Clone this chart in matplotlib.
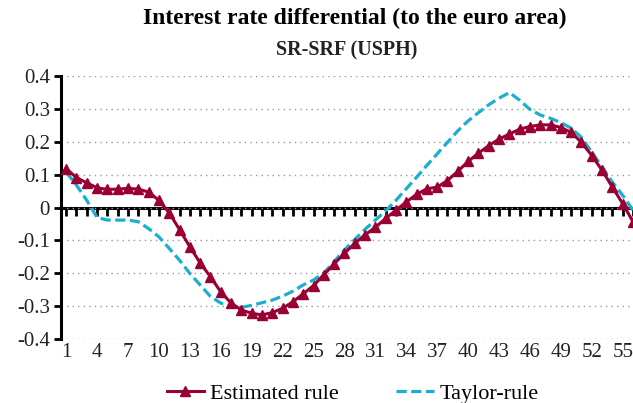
import numpy as np
import matplotlib
matplotlib.use("Agg")
import matplotlib.pyplot as plt

periods = list(range(1, 57))

estimated_rule = [
    0.118, 0.091, 0.075, 0.060, 0.055, 0.056, 0.058, 0.056, 0.047, 0.022,
    -0.016, -0.067, -0.119, -0.168, -0.210, -0.256, -0.290, -0.311, -0.321, -0.326,
    -0.319, -0.306, -0.286, -0.262, -0.237, -0.204, -0.171, -0.139, -0.109, -0.083,
    -0.060, -0.033, -0.008, 0.017, 0.040, 0.057, 0.062, 0.082, 0.110, 0.140,
    0.165, 0.188, 0.208, 0.223, 0.238, 0.246, 0.251, 0.251, 0.243, 0.228,
    0.198, 0.158, 0.113, 0.062, 0.012, -0.043,
]

taylor_rule = [
    0.108, 0.068, 0.022, -0.030, -0.038, -0.038, -0.038, -0.043, -0.064, -0.089,
    -0.124, -0.160, -0.200, -0.235, -0.270, -0.290, -0.300, -0.303, -0.297, -0.289,
    -0.281, -0.269, -0.254, -0.235, -0.220, -0.199, -0.164, -0.129, -0.097, -0.066,
    -0.038, -0.010, 0.022, 0.057, 0.092, 0.128, 0.163, 0.198, 0.233, 0.263,
    0.288, 0.312, 0.332, 0.349, 0.326, 0.298, 0.281, 0.271, 0.258, 0.241,
    0.213, 0.168, 0.123, 0.077, 0.037, -0.008,
]

y_ticks = [-0.4, -0.3, -0.2, -0.1, 0, 0.1, 0.2, 0.3, 0.4]
y_labels = ["-0.4", "-0.3", "-0.2", "-0.1", "0", "0.1", "0.2", "0.3", "0.4"]

RED = "#990033"
CYAN = "#1AAFCF"
FONT = "Liberation Serif"

plt.rcParams["font.family"] = FONT

fig = plt.figure(figsize=(6.33, 4.03), dpi=100)
ax = fig.add_axes([61 / 633, (403 - 339.3) / 403, 572 / 633, 263.5 / 403])

ax.plot(periods, estimated_rule, color=RED, linewidth=2.2, marker="^",
        markersize=6.5, label="Estimated rule", clip_on=False, zorder=4)
ax.plot(periods, taylor_rule, color=CYAN, linewidth=2.3,
        linestyle=(0, (3.2, 1.4)), label="Taylor-rule", clip_on=False,
        zorder=3)

ax.set_xlim(0.5, 56.0)
ax.set_ylim(-0.4, 0.4)

ax.set_yticks(y_ticks)
ax.set_yticklabels(y_labels)
ax.yaxis.grid(True, linestyle=(0, (1, 3)), color="#999999", linewidth=1)
ax.set_axisbelow(True)

for side in ["top", "right", "bottom"]:
    ax.spines[side].set_visible(False)
ax.spines["left"].set_linewidth(2.2)
ax.tick_params(axis="y", direction="out", length=5, width=2, labelsize=15,
               pad=3, colors="black", labelcolor="#222222")

ax.set_xticks(periods[::3])
ax.tick_params(axis="x", length=0, labelsize=15, pad=3, labelcolor="#222222")

# zero line with a tick at every period
zero_axis = ax.secondary_xaxis(0.5)
zero_axis.set_xticks(periods)
zero_axis.set_xticklabels([])
zero_axis.xaxis.set_ticks_position("bottom")
for side in zero_axis.spines:
    zero_axis.spines[side].set_linewidth(2.2)
zero_axis.tick_params(axis="x", direction="out", length=6, width=2,
                      labelbottom=False, labeltop=False)

fig.text(0.56, 0.955, "Interest rate differential (to the euro area)",
         ha="center", va="center", fontsize=17, fontweight="bold")
fig.text(0.548, 0.875, "SR-SRF (USPH)", ha="center", va="center",
         fontsize=14.5, fontweight="bold", color="#222222")

ax.legend(loc="center", bbox_to_anchor=(0.51, -0.205), ncol=2, frameon=False,
          fontsize=16, handlelength=1.7, handletextpad=0.25, columnspacing=2.6,
          borderpad=0)

fig.savefig("out.png", dpi=100)
